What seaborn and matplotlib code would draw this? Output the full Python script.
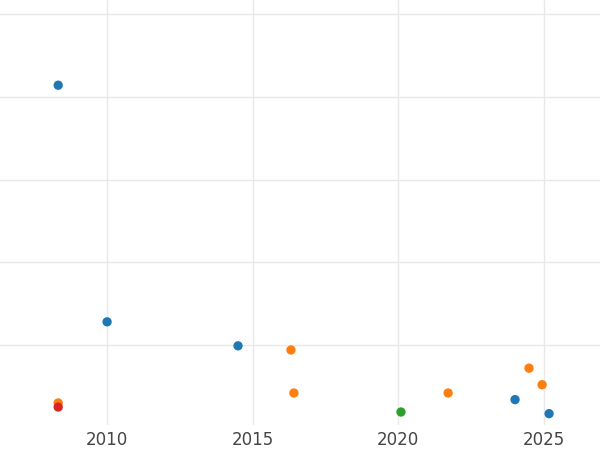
import matplotlib
matplotlib.use('Agg')
import matplotlib.pyplot as plt
import seaborn as sns
import pandas as pd

years = [2008.32, 2010.0, 2014.5, 2016.32, 2016.42, 2008.32, 2008.32, 2020.1, 2021.72, 2024.02, 2024.5, 2024.95, 2025.19]
values = [4.14, 1.28, 0.99, 0.94, 0.42, 0.30, 0.25, 0.19, 0.42, 0.34, 0.72, 0.52, 0.17]
groups = ['a', 'a', 'a', 'b', 'b', 'b', 'd', 'c', 'b', 'a', 'b', 'b', 'a']
palette = {'a': '#1f77b4', 'b': '#ff7f0e', 'c': '#2ca02c', 'd': '#d62728'}

df = pd.DataFrame({'year': years, 'value': values, 'group': groups})

sns.set_style('whitegrid')
fig = plt.figure(figsize=(6, 4.5), dpi=100)
ax = fig.add_axes([0, 0.055, 1, 0.945])
sns.scatterplot(data=df, x='year', y='value', hue='group', palette=palette,
                s=45, edgecolor='none', legend=False, ax=ax)
ax.set_xlim(2006.32, 2026.94)
ax.set_ylim(0.03, 5.17)
ax.set_xticks([2010, 2015, 2020, 2025])
ax.set_yticks([1, 2, 3, 4, 5])
ax.set_yticklabels([])
ax.grid(color='#e8e8e8', linewidth=1)
ax.tick_params(axis='x', colors='#444444', labelsize=12, length=0, pad=4)
ax.tick_params(axis='y', length=0)
ax.set_xlabel('')
ax.set_ylabel('')
for s in ax.spines.values():
    s.set_visible(False)
fig.savefig('out.png', dpi=100)
